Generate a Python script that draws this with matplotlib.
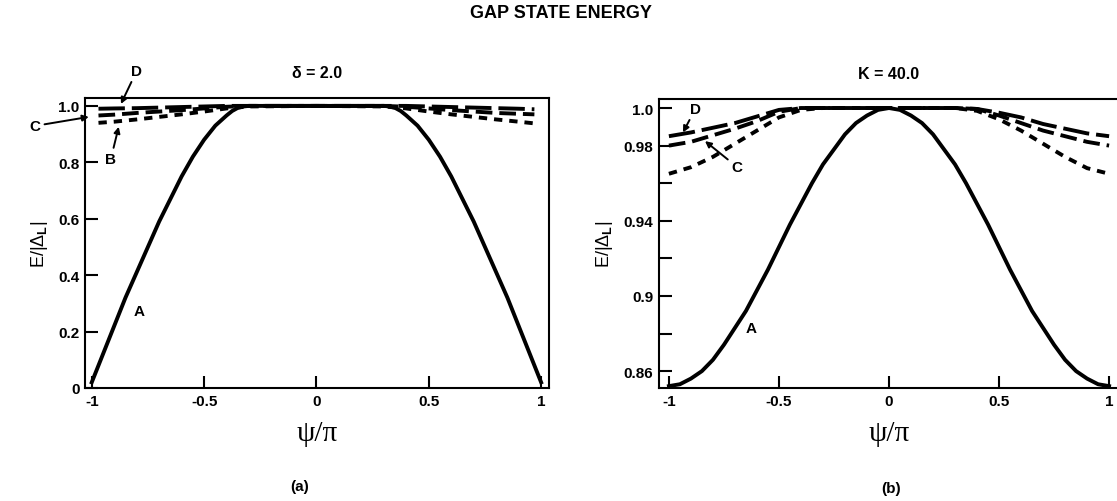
import numpy as np
import matplotlib
matplotlib.use("Agg")
import matplotlib.pyplot as plt

plt.rcParams['font.family'] = ['Liberation Sans', 'DejaVu Sans']
plt.rcParams['font.weight'] = 'bold'
plt.rcParams['axes.titleweight'] = 'bold'
plt.rcParams['mathtext.fontset'] = 'custom'
plt.rcParams['mathtext.rm'] = 'Liberation Sans:bold'
plt.rcParams['mathtext.bf'] = 'Liberation Sans:bold'
plt.rcParams['lines.scale_dashes'] = False

# (a) delta = 2.0
psi_a_solid = [-1.0, -0.95, -0.9, -0.85, -0.8, -0.75, -0.7, -0.65, -0.6, -0.55, -0.5,
               -0.45, -0.4, -0.375, -0.35, -0.325, -0.3, 0.0, 0.3, 0.325, 0.35, 0.375,
               0.4, 0.45, 0.5, 0.55, 0.6, 0.65, 0.7, 0.75, 0.8, 0.85, 0.9, 0.95, 1.0]
a_A = [0.02, 0.12, 0.22, 0.32, 0.41, 0.50, 0.59, 0.67, 0.75, 0.82, 0.88,
       0.93, 0.966, 0.982, 0.993, 0.998, 1.0, 1.0, 1.0, 0.998, 0.993, 0.982,
       0.966, 0.93, 0.88, 0.82, 0.75, 0.67, 0.59, 0.50, 0.41, 0.32, 0.22, 0.12, 0.02]
psi_a_dash = [-0.97, -0.9, -0.8, -0.7, -0.6, -0.5, -0.4, -0.3, 0.0, 0.3, 0.4, 0.5,
              0.6, 0.7, 0.8, 0.9, 0.97]
a_B = [0.940, 0.944, 0.952, 0.961, 0.970, 0.980, 0.991, 0.998, 1.0, 0.998, 0.991, 0.980,
       0.970, 0.961, 0.952, 0.944, 0.938]
a_C = [0.966, 0.969, 0.975, 0.980, 0.985, 0.991, 0.997, 1.0, 1.0, 1.0, 0.997, 0.991,
       0.985, 0.980, 0.975, 0.972, 0.970]
a_D = [0.990, 0.991, 0.992, 0.994, 0.996, 0.998, 1.0, 1.0, 1.0, 1.0, 1.0, 0.998,
       0.996, 0.994, 0.992, 0.990, 0.988]

# (b) K = 40.0
psi_b_solid = [-1.0, -0.95, -0.9, -0.85, -0.8, -0.75, -0.7, -0.65, -0.6, -0.55, -0.5,
               -0.45, -0.4, -0.35, -0.3, -0.25, -0.2, -0.15, -0.1, -0.05, 0.0,
               0.05, 0.1, 0.15, 0.2, 0.25, 0.3, 0.35, 0.4, 0.45, 0.5,
               0.55, 0.6, 0.65, 0.7, 0.75, 0.8, 0.85, 0.9, 0.95, 1.0]
b_A = [0.852, 0.853, 0.856, 0.860, 0.866, 0.874, 0.883, 0.892, 0.903, 0.914, 0.926,
       0.938, 0.949, 0.960, 0.970, 0.978, 0.986, 0.992, 0.996, 0.999, 1.0,
       0.999, 0.996, 0.992, 0.986, 0.978, 0.970, 0.960, 0.949, 0.938, 0.926,
       0.914, 0.903, 0.892, 0.883, 0.874, 0.866, 0.860, 0.856, 0.853, 0.852]
psi_b = [-1.0, -0.9, -0.8, -0.7, -0.6, -0.5, -0.4, -0.3, -0.2, -0.1, 0.0,
         0.1, 0.2, 0.3, 0.4, 0.5, 0.6, 0.7, 0.8, 0.9, 1.0]
b_B = [0.965, 0.9685, 0.974, 0.981, 0.988, 0.995, 0.999, 1.0, 1.0, 1.0, 1.0,
       1.0, 1.0, 1.0, 0.9985, 0.994, 0.988, 0.981, 0.974, 0.968, 0.965]
b_C = [0.980, 0.982, 0.9855, 0.989, 0.993, 0.998, 1.0, 1.0, 1.0, 1.0, 1.0,
       1.0, 1.0, 1.0, 0.9995, 0.996, 0.992, 0.988, 0.985, 0.982, 0.980]
b_D = [0.985, 0.987, 0.9895, 0.992, 0.9955, 0.999, 1.0, 1.0, 1.0, 1.0, 1.0,
       1.0, 1.0, 1.0, 0.9995, 0.9975, 0.995, 0.9915, 0.989, 0.9865, 0.985]

xticks = [-1, -0.5, 0, 0.5, 1]
xticklabels = ['-1', '-0.5', '0', '0.5', '1']
a_yticks = [0, 0.2, 0.4, 0.6, 0.8, 1.0]
a_yticklabels = ['0', '0.2', '0.4', '0.6', '0.8', '1.0']
b_yticks = [0.86, 0.88, 0.9, 0.92, 0.94, 0.96, 0.98, 1.0]
b_yticklabels = ['0.86', '', '0.9', '', '0.94', '', '0.98', '1.0']

W, H = 1117, 502
fig = plt.figure(figsize=(W / 100, H / 100), dpi=100)

def px_axes(x0, y0, x1, y1):
    return fig.add_axes([x0 / W, 1 - y1 / H, (x1 - x0) / W, (y1 - y0) / H])

ax1 = px_axes(85, 99, 549, 389)
ax2 = px_axes(659, 100, 1119, 389)

lw = 2.8
dashB = (0, (6, 5))
dashC = (0, (12, 5))
dashD = (0, (19, 5))
arrow = dict(arrowstyle='-|>', color='k', lw=1.4, mutation_scale=9, shrinkA=1, shrinkB=0)

for ax in (ax1, ax2):
    ax.tick_params(direction='in', length=9, width=1.5, labelsize=11, pad=4)
    for s in ax.spines.values():
        s.set_linewidth(1.5)
    ax.set_xticks(xticks)
    ax.set_xticklabels(xticklabels)
    ax.set_xlabel('ψ/π', family='Liberation Serif', fontweight='normal', fontsize=21, labelpad=9)
    ax.set_ylabel('E/|Δ$_\\mathbf{L}$|', fontsize=13, labelpad=6)

# panel (a)
ax1.plot(psi_a_solid, a_A, color='k', lw=lw, solid_joinstyle='round')
ax1.plot(psi_a_dash, a_B, color='k', lw=lw, linestyle=dashB)
ax1.plot(psi_a_dash, a_C, color='k', lw=lw, linestyle=dashC)
ax1.plot(psi_a_dash, a_D, color='k', lw=lw, linestyle=dashD)
ax1.set_xlim(-1.03, 1.035)
ax1.set_ylim(0, 1.028)
ax1.set_yticks(a_yticks)
ax1.set_yticklabels(a_yticklabels)
ax1.set_title('δ = 2.0', fontsize=11.5, pad=15)
ax1.text(-0.787, 0.273, 'A', fontsize=11, ha='center', va='center')
ax1.annotate('B', xy=(-0.88, 0.926), xytext=(-0.915, 0.812), fontsize=11,
             ha='center', va='center', arrowprops=arrow, annotation_clip=False)
ax1.annotate('C', xy=(-1.013, 0.961), xytext=(-1.253, 0.929), fontsize=11,
             ha='center', va='center', arrowprops=arrow, annotation_clip=False)
ax1.annotate('D', xy=(-0.87, 1.007), xytext=(-0.80, 1.124), fontsize=11,
             ha='center', va='center', arrowprops=arrow, annotation_clip=False)

# panel (b)
ax2.plot(psi_b_solid, b_A, color='k', lw=lw, solid_joinstyle='round')
ax2.plot(psi_b, b_B, color='k', lw=lw, linestyle=dashB)
ax2.plot(psi_b, b_C, color='k', lw=lw, linestyle=dashC)
ax2.plot(psi_b, b_D, color='k', lw=lw, linestyle=dashD)
ax2.set_xlim(-1.045, 1.045)
ax2.set_ylim(0.851, 1.0048)
ax2.set_yticks(b_yticks)
ax2.set_yticklabels(b_yticklabels)
ax2.spines['right'].set_visible(False)
ax2.set_title('K = 40.0', fontsize=11.5, pad=15)
ax2.text(-0.627, 0.883, 'A', fontsize=11, ha='center', va='center')
ax2.annotate('C', xy=(-0.836, 0.9824), xytext=(-0.69, 0.9686), fontsize=11,
             ha='center', va='center', arrowprops=arrow, annotation_clip=False)
ax2.annotate('D', xy=(-0.936, 0.987), xytext=(-0.88, 0.9995), fontsize=11,
             ha='center', va='center', arrowprops=arrow, annotation_clip=False)

fig.text(561 / W, 1 - 13 / H, 'GAP STATE ENERGY', fontsize=13, ha='center', va='center')
fig.text(300 / W, 1 - 487 / H, '(a)', fontsize=11, ha='center', va='center')
fig.text(891 / W, 1 - 489 / H, '(b)', fontsize=11, ha='center', va='center')

fig.savefig('out.png', dpi=100)
